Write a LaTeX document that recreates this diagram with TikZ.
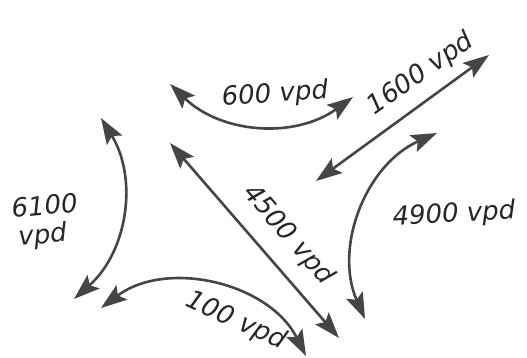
\documentclass[tikz,border=0pt]{standalone}
\usepackage{fontspec}
\setsansfont{DejaVu Sans}
\usepackage{xcolor}
\usetikzlibrary{arrows.meta}

\definecolor{ink}{HTML}{454545}

\begin{document}
\begin{tikzpicture}[
    x=1pt, y=-1pt,
    flow/.style={{Stealth[length=26pt, width=18pt, inset=5pt]}-{Stealth[length=26pt, width=18pt, inset=5pt]}, line width=2.6pt, draw=ink, fill=none},
    vol/.style={font=\sffamily\itshape\fontsize{26}{28}\selectfont, text=black!85, inner sep=0pt},
]
\useasboundingbox (0,0) rectangle (527,358);

% --- Ends of the movements ---
\coordinate (w600)  at (170,84);
\coordinate (e600)  at (353,97);
\coordinate (sw1600) at (316,181);
\coordinate (ne1600) at (489,55);
\coordinate (n6100) at (101,118);
\coordinate (s6100) at (74,299);
\coordinate (nw4500) at (170,143);
\coordinate (se4500) at (339,338);
\coordinate (w100)  at (101,308);
\coordinate (e100)  at (306,356);
\coordinate (n4900) at (437,133);
\coordinate (s4900) at (365,319);

% --- Two-way movements ---
\draw[flow] (w600) to[bend right=40] (e600);
\draw[flow] (sw1600) -- (ne1600);
\draw[flow] (n6100) to[bend left=40] (s6100);
\draw[flow] (nw4500) -- (se4500);
\draw[flow] (w100) to[bend left=50] (e100);
\draw[flow] (n4900) to[bend right=45] (s4900);

% --- Volumes ---
\node[vol, rotate=4] (v600) at (275,95) {600 vpd};
\node[vol, rotate=35] (v1600) at (421,74) {1600 vpd};
\node[vol, rotate=5, align=left] (v6100) at (46,222) {6100\\\,vpd};
\node[vol, rotate=-49] (v4500) at (288,235) {4500 vpd};
\node[vol, rotate=-25] (v100) at (236,321) {100 vpd};
\node[vol, rotate=3] (v4900) at (454,215) {4900 vpd};

\end{tikzpicture}
\end{document}
